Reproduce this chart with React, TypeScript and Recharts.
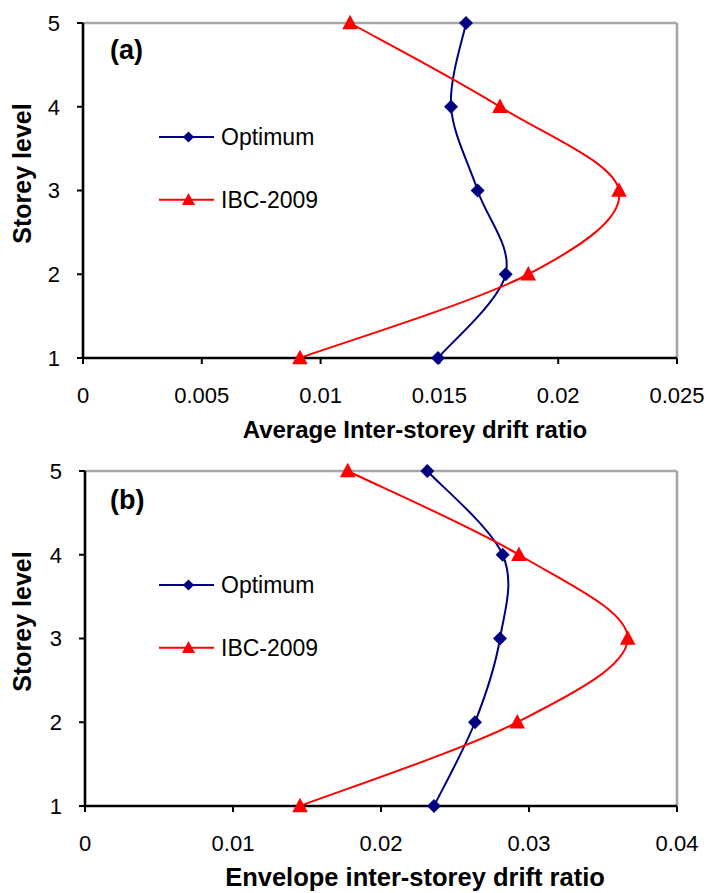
import React from "react";
import { LineChart, Line, XAxis, YAxis, ReferenceLine } from "recharts";

const levels = [1, 2, 3, 4, 5];
const optimumAvg = [0.01494, 0.01779, 0.01661, 0.01549, 0.01612];
const ibcAvg = [0.00913, 0.01874, 0.02256, 0.01755, 0.01124];
const optimumEnv = [0.02358, 0.02635, 0.02804, 0.02822, 0.02313];
const ibcEnv = [0.01453, 0.02921, 0.03667, 0.02932, 0.01775];
const avgTicks = [0, 0.005, 0.01, 0.015, 0.02, 0.025];
const envTicks = [0, 0.01, 0.02, 0.03, 0.04];
const seriesNames = ["Optimum", "IBC-2009"];

const NAVY = "#000080";
const RED = "#ff0000";
const FONT = "'Liberation Sans', Arial, sans-serif";

const toRows = (xs: number[]) => xs.map((d, i) => ({ drift: d, level: levels[i] }));

// smoothing similar to Excel's "smoothed line" (Catmull-Rom through the points)
const smooth = (context: any) => {
  let pts: number[][] = [];
  return {
    areaStart() {},
    areaEnd() {},
    lineStart() {
      pts = [];
    },
    point(x: number, y: number) {
      pts.push([x, y]);
    },
    lineEnd() {
      if (!pts.length) return;
      context.moveTo(pts[0][0], pts[0][1]);
      for (let i = 0; i < pts.length - 1; i++) {
        const p0 = pts[Math.max(i - 1, 0)];
        const p1 = pts[i];
        const p2 = pts[i + 1];
        const p3 = pts[Math.min(i + 2, pts.length - 1)];
        context.bezierCurveTo(
          p1[0] + (p2[0] - p0[0]) / 6,
          p1[1] + (p2[1] - p0[1]) / 6,
          p2[0] - (p3[0] - p1[0]) / 6,
          p2[1] - (p3[1] - p1[1]) / 6,
          p2[0],
          p2[1]
        );
      }
    },
  };
};

const diamondPath = (cx: number, cy: number, r: number) =>
  `M${cx},${cy - r}L${cx + r},${cy}L${cx},${cy + r}L${cx - r},${cy}Z`;
const trianglePath = (cx: number, cy: number, w: number) =>
  `M${cx},${cy - w * 1.05}L${cx + w},${cy + w * 0.8}L${cx - w},${cy + w * 0.8}Z`;

const DiamondDot = (p: any) => (
  <path key={`d${p.index}`} d={diamondPath(p.cx, p.cy, 7)} fill={NAVY} />
);
const TriangleDot = (p: any) => (
  <path key={`t${p.index}`} d={trianglePath(p.cx, p.cy, 7.8)} fill={RED} />
);

function Panel({
  tag,
  opt,
  ibc,
  ticks,
  xTitle,
  height,
  marginTop,
  yWidth,
  titleSize,
  tagY,
  titleY,
}: {
  tag: string;
  opt: number[];
  ibc: number[];
  ticks: number[];
  xTitle: string;
  height: number;
  marginTop: number;
  yWidth: number;
  titleSize: number;
  tagY: number;
  titleY: number;
}) {
  const xMax = ticks[ticks.length - 1];
  const plotBottom = height - 87;
  const midY = (marginTop + plotBottom) / 2 - 17;
  return (
    <LineChart
      width={707}
      height={height}
      margin={{ top: marginTop, right: 30, bottom: 0, left: 0 }}
      style={{ fontFamily: FONT }}
    >
      <XAxis
        type="number"
        dataKey="drift"
        domain={[0, xMax]}
        ticks={ticks}
        height={87}
        tickSize={6}
        tickMargin={23}
        axisLine={{ stroke: "#000", strokeWidth: 2.6 }}
        tickLine={{ stroke: "#000", strokeWidth: 2 }}
        tick={{ fill: "#000", fontSize: 22 }}
        interval={0}
      />
      <YAxis
        type="number"
        domain={[1, 5]}
        ticks={levels}
        width={yWidth}
        tickSize={6}
        tickMargin={17}
        axisLine={{ stroke: "#000", strokeWidth: 2.6 }}
        tickLine={{ stroke: "#000", strokeWidth: 2 }}
        tick={{ fill: "#000", fontSize: 22 }}
        interval={0}
      />
      <ReferenceLine y={5} stroke="#a6a6a6" strokeWidth={2.6} />
      <ReferenceLine x={xMax} stroke="#a6a6a6" strokeWidth={2.6} />
      <Line
        data={toRows(opt)}
        dataKey="level"
        name={seriesNames[0]}
        type={smooth as any}
        stroke={NAVY}
        strokeWidth={2}
        dot={DiamondDot}
        activeDot={false}
        isAnimationActive={false}
      />
      <Line
        data={toRows(ibc)}
        dataKey="level"
        name={seriesNames[1]}
        type={smooth as any}
        stroke={RED}
        strokeWidth={2}
        dot={TriangleDot}
        activeDot={false}
        isAnimationActive={false}
      />
      <g>
        <text x={110} y={tagY} fontSize={27} fontWeight="bold" fill="#000">
          {tag}
        </text>
        <text
          x={31}
          y={midY}
          fontSize={25}
          fontWeight="bold"
          fill="#000"
          textAnchor="middle"
          transform={`rotate(-90, 31, ${midY})`}
        >
          Storey level
        </text>
        <text
          x={415}
          y={titleY}
          fontSize={titleSize}
          fontWeight="bold"
          fill="#000"
          textAnchor="middle"
        >
          {xTitle}
        </text>
        {seriesNames.map((n, i) => {
          const ly = marginTop + 114 + i * 62.7;
          return (
            <g key={n}>
              <line x1={159} x2={214} y1={ly} y2={ly} stroke={i ? RED : NAVY} strokeWidth={2} />
              {i ? (
                <path d={trianglePath(188.5, ly, 6.5)} fill={RED} />
              ) : (
                <path d={diamondPath(188.5, ly, 5.6)} fill={NAVY} />
              )}
              <text x={221} y={ly + 8} fontSize={23} fill="#000">
                {n}
              </text>
            </g>
          );
        })}
      </g>
    </LineChart>
  );
}

export default function App() {
  return (
    <div
      style={{
        position: "absolute",
        left: 0,
        top: 0,
        width: 707,
        height: 893,
        background: "#fff",
        overflow: "hidden",
      }}
    >
      <div style={{ position: "absolute", left: 0, top: 0 }}>
        <Panel
          tag="(a)"
          opt={optimumAvg}
          ibc={ibcAvg}
          ticks={avgTicks}
          xTitle="Average Inter-storey drift ratio"
          height={445}
          marginTop={23}
          yWidth={83}
          titleSize={24}
          tagY={59}
          titleY={438}
        />
      </div>
      <div style={{ position: "absolute", left: 0, top: 445 }}>
        <Panel
          tag="(b)"
          opt={optimumEnv}
          ibc={ibcEnv}
          ticks={envTicks}
          xTitle="Envelope inter-storey drift ratio"
          height={448}
          marginTop={26}
          yWidth={85}
          titleSize={25.5}
          tagY={64}
          titleY={441}
        />
      </div>
    </div>
  );
}
